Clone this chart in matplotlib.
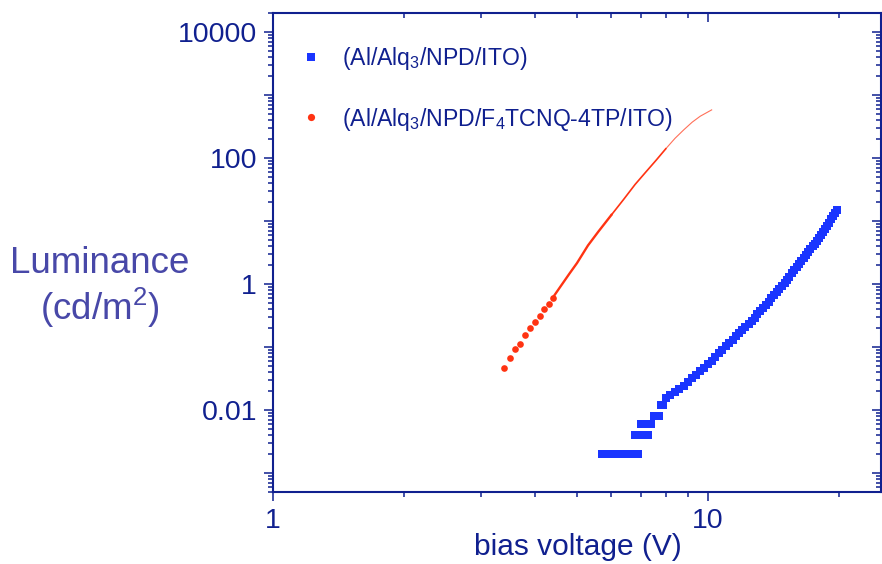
import matplotlib
matplotlib.use('Agg')
import matplotlib.pyplot as plt
from matplotlib.ticker import FixedLocator, FuncFormatter, NullFormatter
from matplotlib.lines import Line2D
import numpy as np

plt.rcParams['font.family'] = ['Liberation Sans', 'DejaVu Sans']
plt.rcParams['mathtext.fontset'] = 'custom'
plt.rcParams['mathtext.rm'] = 'Liberation Sans'
plt.rcParams['mathtext.it'] = 'Liberation Sans:italic'

# Al/Alq3/NPD/ITO
azul_v = [5.7, 5.9, 6.0, 6.1, 6.2, 6.3, 6.4, 6.5, 6.6, 6.7, 6.8, 6.9,
          7.0, 7.1, 7.2, 7.3, 7.4, 7.5, 7.6, 7.7, 7.8, 7.9,
          8.0, 8.2, 8.4, 8.6, 8.8, 9.0, 9.2, 9.4, 9.6, 9.8,
          10.0, 10.2, 10.4, 10.6, 10.8, 11.0, 11.2, 11.4, 11.6, 11.8,
          12.0, 12.2, 12.4, 12.6, 12.8, 13.0, 13.2, 13.4, 13.6, 13.8,
          14.0, 14.2, 14.4, 14.6, 14.8, 15.0, 15.2, 15.4, 15.6, 15.8,
          16.0, 16.2, 16.4, 16.6, 16.8, 17.0, 17.2, 17.4, 17.6, 17.8,
          18.0, 18.2, 18.4, 18.6, 18.8, 19.0, 19.2, 19.4, 19.6, 19.8]
azul_lum = [0.002, 0.002, 0.002, 0.002, 0.002, 0.002, 0.002, 0.002, 0.002, 0.002, 0.004, 0.002,
            0.006, 0.004, 0.006, 0.004, 0.006, 0.008, 0.008, 0.008, 0.012, 0.012,
            0.0156, 0.0173, 0.0193, 0.0214, 0.0243, 0.0278, 0.0317, 0.0360, 0.0409, 0.0463,
            0.0532, 0.0610, 0.0697, 0.0796, 0.0904, 0.1026, 0.116, 0.131, 0.148, 0.166,
            0.187, 0.210, 0.234, 0.262, 0.292, 0.330, 0.372, 0.419, 0.470, 0.527,
            0.590, 0.659, 0.736, 0.821, 0.920, 1.04, 1.17, 1.31, 1.47, 1.65,
            1.84, 2.06, 2.30, 2.56, 2.86, 3.18, 3.55, 3.94, 4.38, 4.86,
            5.39, 5.97, 6.59, 7.40, 8.35, 9.40, 10.6, 11.9, 13.3, 14.9]

# Al/Alq3/NPD/F4TCNQ-4TP/ITO
verm_v = [3.4, 3.5, 3.6, 3.7, 3.8, 3.9, 4.0, 4.1, 4.2, 4.3, 4.4,
          4.6, 4.8, 5.0, 5.3, 5.6, 6.0, 6.4, 6.8, 7.2, 7.6, 8.0, 8.4, 8.8, 9.2, 9.6, 10.2]
verm_lum = [0.046, 0.068, 0.092, 0.112, 0.157, 0.202, 0.249, 0.314, 0.40, 0.49, 0.61,
            0.95, 1.45, 2.15, 4.1, 6.8, 12.5, 22, 38, 60, 92, 140, 205, 280, 370, 460, 580]

legendas = [r'(Al/Alq$_\mathrm{3}$/NPD/ITO)',
            r'(Al/Alq$_\mathrm{3}$/NPD/F$_\mathrm{4}$TCNQ-4TP/ITO)']

x_major = [1, 10]
x_minor = [2, 3, 4, 5, 6, 7, 8, 9, 20]
y_major = [10.0 ** e for e in range(-3, 5)]
y_minor = [m * 10.0 ** e for e in range(-4, 5) for m in range(2, 10)]
y_minor = [v for v in y_minor if 5e-4 <= v <= 2e4]

azul = '#1a35ff'
verm = '#ff3312'
navy = '#10208f'

fig = plt.figure(figsize=(8.82, 5.64), dpi=100)
ax = fig.add_axes([273 / 882, 1 - 492 / 564, 608 / 882, 479 / 564])

ax.plot(azul_v, azul_lum, 's', color=azul, ms=5.3, mew=0, zorder=3)
ax.plot(verm_v[:11], verm_lum[:11], 'o', color=verm, ms=4.8, mew=0, zorder=3)
# a partir de 4.4 V os pontos viram uma linha fina
ax.plot(verm_v[10:17], verm_lum[10:17], '-', color=verm, lw=1.7, zorder=3)
ax.plot(verm_v[16:22], verm_lum[16:22], '-', color=verm, lw=1.2, zorder=3)
ax.plot(verm_v[21:], verm_lum[21:], '-', color=verm, lw=0.8, alpha=0.7, zorder=3)

ax.set_xscale('log')
ax.set_yscale('log')
ax.set_xlim(1, 25)
ax.set_ylim(5e-4, 2e4)

def rotulo_y(v, pos):
    e = int(round(np.log10(v)))
    return '%g' % v if e % 2 == 0 else ''

def aplica_ticks(a):
    a.xaxis.set_major_locator(FixedLocator(x_major))
    a.xaxis.set_minor_locator(FixedLocator(x_minor))
    a.yaxis.set_major_locator(FixedLocator(y_major))
    a.yaxis.set_minor_locator(FixedLocator(y_minor))

aplica_ticks(ax)
ax.xaxis.set_major_formatter(FuncFormatter(lambda v, p: '%g' % v))
ax.xaxis.set_minor_formatter(NullFormatter())
ax.yaxis.set_major_formatter(FuncFormatter(rotulo_y))
ax.yaxis.set_minor_formatter(NullFormatter())

for s in ax.spines.values():
    s.set_color(navy)
    s.set_linewidth(1.5)

ax.tick_params(which='both', direction='out', color=navy, width=1.1,
               top=False, right=False, left=True, bottom=True,
               labelsize=20.5, labelcolor=navy, pad=5)
ax.tick_params(which='major', length=6.5)
ax.tick_params(which='minor', length=3.4)

# eixos espelhados (ticks para dentro)
ax_top = ax.twiny()
ax_top.set_xscale('log')
ax_top.set_xlim(ax.get_xlim())
aplica_ticks(ax_top)
ax_top.tick_params(axis='x', which='both', direction='in', color=navy, width=1.1, labeltop=False)
ax_top.tick_params(axis='x', which='major', length=6.5)
ax_top.tick_params(axis='x', which='minor', length=3.4)

ax_dir = ax.twinx()
ax_dir.set_yscale('log')
ax_dir.set_ylim(ax.get_ylim())
ax_dir.yaxis.set_major_locator(FixedLocator(y_major))
ax_dir.yaxis.set_minor_locator(FixedLocator(y_minor))
ax_dir.tick_params(axis='y', which='both', direction='in', color=navy, width=1.1, labelright=False)
ax_dir.tick_params(axis='y', which='major', length=6.5)
ax_dir.tick_params(axis='y', which='minor', length=3.4)
for a in (ax_top, ax_dir):
    for s in a.spines.values():
        s.set_visible(False)

ax.set_xlabel('bias voltage (V)', fontsize=21.5, color=navy, va='center')
ax.xaxis.set_label_coords(0.502, -0.115)
ax.set_ylabel('Luminance\n(cd/m$^\\mathrm{2}$)', fontsize=26.5, color='#4848a8',
              rotation=0, ha='center', va='center', linespacing=1.15)
ax.yaxis.set_label_coords(-0.2845, 0.426)

handles = [Line2D([], [], marker='s', ls='none', color=azul, ms=5.2, mew=0),
           Line2D([], [], marker='o', ls='none', color=verm, ms=5.2, mew=0)]
ax_dir.legend(handles, legendas, loc='upper left', bbox_to_anchor=(0.043, 0.933),
              frameon=False, fontsize=16.6, labelcolor=navy, handlelength=1.0,
              handletextpad=0.87, labelspacing=1.45, borderpad=0, borderaxespad=0)

plt.savefig('out.png', dpi=100)
